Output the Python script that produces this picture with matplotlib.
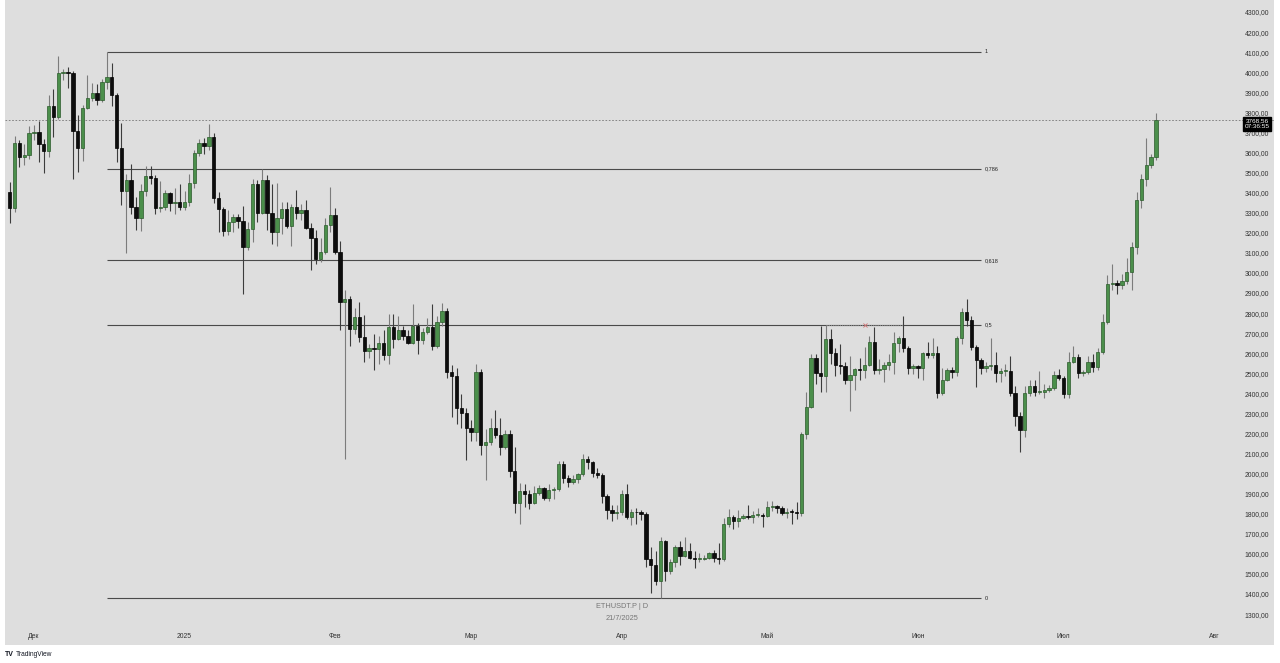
import matplotlib
matplotlib.use('Agg')
import matplotlib.pyplot as plt
import matplotlib.dates as mdates
import matplotlib.transforms as mtransforms
import numpy as np
import pandas as pd

plt.rcParams['font.family'] = ['Liberation Sans', 'DejaVu Sans']

# ETHUSDT.P daily candles, 26 Nov 2024 .. 20 Jul 2025
dates = pd.date_range('2024-11-26', '2025-07-20', freq='D')

opens = [
    # Nov
    3410, 3329, 3653, 3583, 3595,
    # Dec
    3702, 3705, 3647, 3612, 3836, 3782, 4001, 4006, 4001, 3712, 3627, 3826, 3876, 3901, 3866, 3955,
    3980, 3891, 3627, 3413, 3467, 3333, 3279, 3413, 3487, 3480, 3329, 3332, 3403, 3355, 3360,
    # Jan
    3334, 3359, 3453, 3603, 3652, 3637, 3682, 3378, 3323, 3213, 3258, 3283, 3263, 3134, 3223, 3448,
    3303, 3467, 3303, 3208, 3278, 3323, 3238, 3333, 3303, 3318, 3228, 3179, 3074, 3109, 3243,
    # Feb
    3293, 3109, 2860, 2875, 2726, 2786, 2686, 2616, 2631, 2628, 2656, 2596, 2736, 2676, 2721, 2691,
    2656, 2741, 2671, 2711, 2736, 2640, 2761, 2816, 2511, 2491, 2332, 2307,
    # Mar
    2232, 2212, 2511, 2148, 2163, 2232, 2197, 2138, 2202, 2018, 1859, 1919, 1904, 1859, 1909, 1934,
    1884, 1924, 1927, 2053, 1983, 1963, 1978, 2003, 2078, 2063, 2008, 1998, 1894, 1824, 1809,
    # Apr
    1816, 1904, 1789, 1814, 1812, 1805, 1579, 1549, 1470, 1669, 1520, 1564, 1639, 1594, 1619, 1584,
    1580, 1582, 1586, 1609, 1584, 1579, 1754, 1789, 1770, 1786, 1793, 1790, 1798, 1800,
    # May
    1794, 1840, 1842, 1834, 1810, 1815, 1813, 1808, 2202, 2337, 2581, 2506, 2491, 2676, 2606, 2546,
    2541, 2471, 2496, 2526, 2521, 2546, 2661, 2521, 2526, 2546, 2561, 2656, 2680, 2631, 2531,
    # Jun
    2541, 2531, 2606, 2596, 2606, 2407, 2471, 2520, 2510, 2680, 2810, 2770, 2636, 2571, 2531, 2541,
    2546, 2505, 2517, 2517, 2407, 2292, 2222, 2407, 2442, 2412, 2414, 2420, 2432, 2497,
    # Jul
    2482, 2402, 2561, 2586, 2506, 2510, 2561, 2536, 2610, 2760, 2950, 2955, 2945, 2965, 3010, 3134,
    3368, 3473, 3543, 3583,
]
highs = [
    3460, 3685, 3665, 3645, 3735,
    3742, 3760, 3672, 3890, 3920, 4088, 4020, 4030, 4010, 3790, 3840, 3990, 3950, 3945, 3970, 4107,
    4050, 3900, 3750, 3500, 3550, 3385, 3450, 3540, 3540, 3495, 3465, 3420, 3410, 3430, 3450,
    3415, 3500, 3620, 3670, 3675, 3745, 3700, 3410, 3335, 3320, 3300, 3300, 3340, 3260, 3475, 3470,
    3522, 3495, 3450, 3453, 3360, 3360, 3350, 3420, 3350, 3370, 3255, 3220, 3180, 3280, 3433,
    3330, 3165, 2920, 2890, 2830, 2860, 2795, 2650, 2700, 2690, 2720, 2800, 2800, 2790, 2740, 2720,
    2850, 2755, 2730, 2780, 2850, 2790, 2855, 2830, 2545, 2530, 2400, 2330,
    2270, 2550, 2525, 2225, 2280, 2320, 2280, 2220, 2220, 2140, 1960, 1955, 1925, 1945, 1950, 1940,
    1955, 1940, 2070, 2070, 2000, 2000, 2010, 2105, 2095, 2070, 2035, 2010, 1905, 1850, 1850,
    1925, 1955, 1830, 1835, 1825, 1815, 1640, 1620, 1690, 1672, 1580, 1650, 1670, 1689, 1660, 1620,
    1610, 1600, 1615, 1625, 1660, 1785, 1830, 1800, 1825, 1805, 1850, 1820, 1835, 1810,
    1870, 1870, 1850, 1845, 1835, 1830, 1865, 2210, 2410, 2600, 2600, 2740, 2745, 2725, 2630, 2650,
    2560, 2590, 2530, 2580, 2635, 2690, 2735, 2575, 2560, 2600, 2710, 2690, 2788, 2640, 2550,
    2545, 2610, 2660, 2680, 2640, 2530, 2530, 2535, 2690, 2830, 2875, 2790, 2645, 2580, 2560, 2680,
    2610, 2530, 2550, 2590, 2440, 2310, 2440, 2470, 2471, 2517, 2450, 2445, 2515, 2525,
    2490, 2610, 2640, 2600, 2520, 2590, 2600, 2630, 2800, 2995, 3050, 2970, 3000, 3080, 3160, 3410,
    3500, 3677, 3600, 3800,
]
lows = [
    3255, 3310, 3533, 3545, 3575,
    3665, 3558, 3503, 3585, 3680, 3770, 3965, 3925, 3473, 3508, 3565, 3820, 3860, 3840, 3855, 3920,
    3835, 3560, 3345, 3103, 3300, 3220, 3215, 3390, 3450, 3300, 3310, 3320, 3315, 3300, 3320,
    3320, 3340, 3430, 3590, 3600, 3620, 3355, 3210, 3190, 3194, 3210, 3230, 2900, 3120, 3160, 3260,
    3300, 3220, 3150, 3140, 3200, 3230, 3140, 3275, 3270, 3225, 3020, 3050, 3060, 3100, 3210,
    3100, 2720, 2078, 2640, 2700, 2660, 2560, 2580, 2520, 2550, 2570, 2550, 2630, 2670, 2670, 2650,
    2650, 2600, 2650, 2700, 2620, 2630, 2740, 2480, 2287, 2250, 2230, 2075,
    2170, 2170, 2100, 1974, 2150, 2180, 2100, 2130, 1990, 1810, 1754, 1840, 1830, 1855, 1900, 1875,
    1870, 1880, 1920, 1960, 1940, 1955, 1960, 1995, 2030, 1990, 1985, 1860, 1780, 1770, 1780,
    1800, 1780, 1750, 1755, 1775, 1540, 1410, 1450, 1385, 1470, 1505, 1540, 1550, 1590, 1580, 1535,
    1565, 1575, 1580, 1565, 1555, 1570, 1740, 1730, 1740, 1780, 1780, 1760, 1790, 1740,
    1790, 1820, 1810, 1800, 1785, 1755, 1780, 1795, 2175, 2330, 2450, 2410, 2410, 2550, 2490, 2500,
    2450, 2315, 2420, 2470, 2480, 2540, 2500, 2500, 2460, 2520, 2500, 2610, 2610, 2500, 2500,
    2480, 2470, 2580, 2580, 2380, 2395, 2465, 2480, 2490, 2650, 2740, 2620, 2437, 2500, 2510, 2520,
    2460, 2460, 2490, 2390, 2240, 2112, 2185, 2390, 2390, 2400, 2380, 2410, 2420, 2470,
    2380, 2380, 2555, 2480, 2490, 2500, 2510, 2520, 2600, 2750, 2920, 2900, 2925, 2950, 2920, 3100,
    3330, 3440, 3530, 3570,
]
closes = [
    3329, 3653, 3583, 3595, 3702,
    3705, 3647, 3612, 3836, 3782, 4001, 4006, 4001, 3712, 3627, 3826, 3876, 3901, 3866, 3955, 3980,
    3891, 3627, 3413, 3467, 3333, 3279, 3413, 3487, 3480, 3329, 3332, 3403, 3355, 3360, 3334,
    3359, 3453, 3603, 3652, 3637, 3682, 3378, 3323, 3213, 3258, 3283, 3263, 3134, 3223, 3448, 3303,
    3467, 3303, 3208, 3278, 3323, 3238, 3333, 3303, 3318, 3228, 3179, 3074, 3109, 3243, 3293,
    3109, 2860, 2875, 2726, 2786, 2686, 2616, 2631, 2628, 2656, 2596, 2736, 2676, 2721, 2691, 2656,
    2741, 2671, 2711, 2736, 2640, 2761, 2816, 2511, 2491, 2332, 2307, 2232,
    2212, 2511, 2148, 2163, 2232, 2197, 2138, 2202, 2018, 1859, 1919, 1904, 1859, 1909, 1934, 1884,
    1924, 1927, 2053, 1983, 1963, 1978, 2003, 2078, 2063, 2008, 1998, 1894, 1824, 1809, 1816,
    1904, 1789, 1814, 1812, 1805, 1579, 1549, 1470, 1669, 1520, 1564, 1639, 1594, 1619, 1584, 1580,
    1582, 1586, 1609, 1584, 1579, 1754, 1789, 1770, 1786, 1793, 1790, 1798, 1800, 1794,
    1840, 1842, 1834, 1810, 1815, 1813, 1808, 2202, 2337, 2581, 2506, 2491, 2676, 2606, 2546, 2541,
    2471, 2496, 2526, 2521, 2546, 2661, 2521, 2526, 2546, 2561, 2656, 2680, 2631, 2531, 2541,
    2531, 2606, 2596, 2606, 2407, 2471, 2520, 2510, 2680, 2810, 2770, 2636, 2571, 2531, 2541, 2546,
    2505, 2517, 2517, 2407, 2292, 2222, 2407, 2442, 2412, 2414, 2420, 2432, 2497, 2482,
    2402, 2561, 2586, 2506, 2510, 2561, 2536, 2610, 2760, 2950, 2955, 2945, 2965, 3010, 3134, 3368,
    3473, 3543, 3583, 3768.56,
]

fib_ratios = [1, 0.786, 0.618, 0.5, 0]
fib_labels = ['1', '0,786', '0,618', '0,5', '0']
fib_end = '2025-06-14'

price_ticks = list(range(1300, 4400, 100))
month_ticks = ['2024-12-01', '2025-01-01', '2025-02-01', '2025-03-01', '2025-04-01',
               '2025-05-01', '2025-06-01', '2025-07-01', '2025-08-01']
month_labels = ['Дек', '2025', 'Фев', 'Мар', 'Апр', 'Май', 'Июн', 'Июл', 'Авг']

o = np.array(opens, float)
h = np.array(highs, float)
l = np.array(lows, float)
c = np.array(closes, float)
assert len(o) == len(h) == len(l) == len(c) == len(dates)
x = mdates.date2num(dates)

fig = plt.figure(figsize=(12.8, 6.63), dpi=100)
fig.patch.set_facecolor('white')
ax = fig.add_axes([5 / 1280, 18 / 663, 1269 / 1280, 645 / 663])
ax.set_facecolor('#dedede')
for s in ax.spines.values():
    s.set_visible(False)
ax.set_xticks([])
ax.set_yticks([])

# pixel scale of the reference: 4.857 px per day, Dec 1 at x=34
d0 = mdates.date2num(pd.Timestamp('2024-12-01'))
ppd = 4.857
ax.set_xlim(d0 - 29 / ppd, d0 + 1240 / ppd)
ax.set_ylim(1151, 4365)

up = c >= o
dn = ~up
ax.vlines(x[up], l[up], h[up], color='#7c7c7c', lw=0.8, zorder=2)
ax.vlines(x[dn], l[dn], h[dn], color='#3c3c3c', lw=0.8, zorder=2)
bottom = np.minimum(o, c)
height = np.maximum(np.abs(c - o), 4)
ax.bar(x[up], height[up], bottom=bottom[up], width=0.68, color='#4b8f4b',
       edgecolor='#2b5a2b', lw=0.5, zorder=3)
ax.bar(x[dn], height[dn], bottom=bottom[dn], width=0.68, color='#0d0d0d',
       edgecolor='#000000', lw=0.5, zorder=3)

# fibonacci retracement from the Dec high to the Apr low
hi, lo = h.max(), l.min()
x_start = x[np.argmax(h)]
x_end = mdates.date2num(pd.Timestamp(fib_end))
for r, lab in zip(fib_ratios, fib_labels):
    lvl = lo + r * (hi - lo)
    ax.hlines(lvl, x_start, x_end, color='#4a4a4a', lw=0.8, zorder=1)
    ax.text(x_end + 0.8, lvl, lab, fontsize=4, va='center', ha='left', color='#222222')

# dotted level from the May 13 high
i13 = list(dates).index(pd.Timestamp('2025-05-13'))
i29 = list(dates).index(pd.Timestamp('2025-05-29'))
ax.hlines(h[i13], x[i13], x[i29], color='#8a8a8a', lw=0.8, linestyles=(0, (1, 1)), zorder=1)
ax.plot([(x[i13] + x[i29]) / 2], [h[i13]], marker='x', ms=2.5, mew=0.6, color='#d07070', zorder=4)

# last price line
ax.axhline(c[-1], color='#777777', lw=0.6, ls=(0, (2, 2)), zorder=1)

blend_y = mtransforms.blended_transform_factory(ax.transAxes, ax.transData)
blend_x = mtransforms.blended_transform_factory(ax.transData, ax.transAxes)
lab_x = (1257 - 5) / 1269
for p in price_ticks:
    ax.text(lab_x, p, f'{p:.2f}'.replace('.', ','), transform=blend_y, fontsize=4.9,
            ha='center', va='center', color='#333333')

ax.annotate(f'{c[-1]:.2f}'.replace('.', ',') + '\n07:36:55', xy=(lab_x, c[-1]), xycoords=blend_y,
            xytext=(0, -3), textcoords='offset points', fontsize=4.6, ha='center', va='center',
            color='white', linespacing=1.1,
            bbox=dict(boxstyle='square,pad=0.25', fc='#000000', ec='#000000'), zorder=6)

for d, lab in zip(month_ticks, month_labels):
    ax.text(mdates.date2num(pd.Timestamp(d)), (645 - 636) / 645, lab, transform=blend_x,
            fontsize=4.9, ha='center', va='center', color='#333333')

fig.text(622 / 1280, 1 - 606 / 663, 'ETHUSDT.P | D', fontsize=5.3, ha='center', va='center',
         color='#777777')
fig.text(622 / 1280, 1 - 619 / 663, '21/7/2025', fontsize=5.3, ha='center', va='center',
         color='#777777')

fig.text(5 / 1280, 1 - 654 / 663, 'TV', fontsize=5, fontweight='bold', ha='left', va='center',
         color='#131722')
fig.text(16 / 1280, 1 - 654 / 663, 'TradingView', fontsize=4.8, ha='left', va='center',
         color='#131722')

fig.savefig('out.png', dpi=100, facecolor='white')
